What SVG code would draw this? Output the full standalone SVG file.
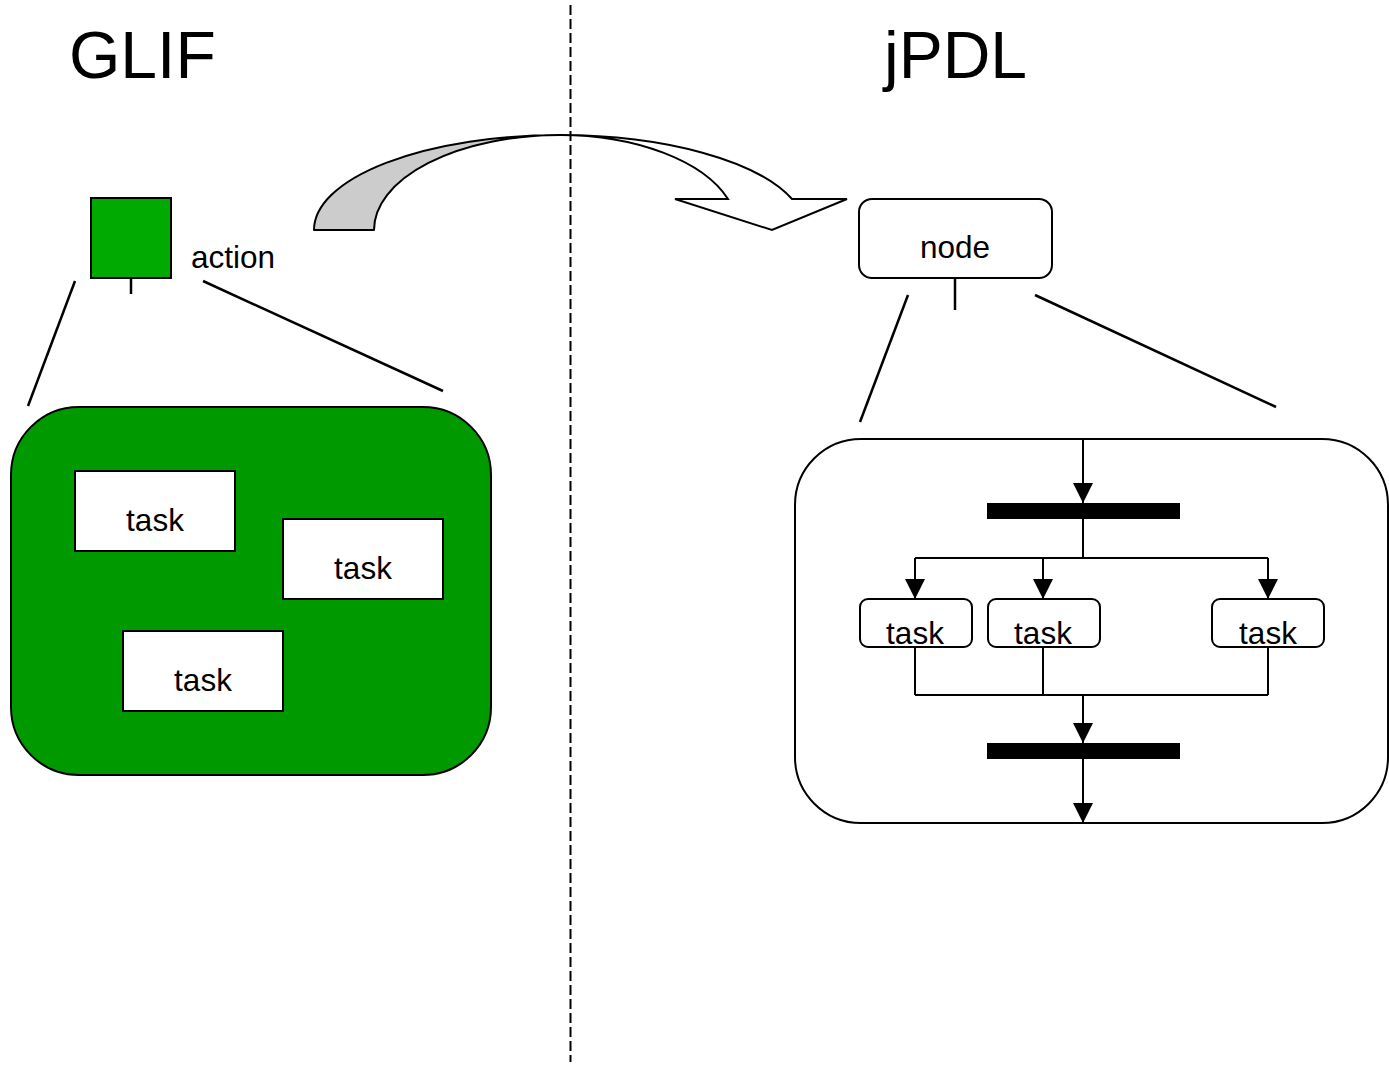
<svg xmlns="http://www.w3.org/2000/svg" width="1389" height="1065" viewBox="0 0 1389 1065">
  <defs>
    <style>
      text { font-family: "Liberation Sans", Arial, sans-serif; fill: #000; }
      .title { font-size: 66px; }
      .lbl { font-size: 31.5px; }
      .mid { text-anchor: middle; }
      .ln { stroke: #000; stroke-width: 2.5; fill: none; }
      .thin { stroke: #000; stroke-width: 2; fill: none; }
      .box { fill: #fff; stroke: #000; stroke-width: 2; }
      .bar { fill: #000; }
    </style>
    <marker id="headL" viewBox="0 0 10 10" refX="10" refY="5" markerWidth="20" markerHeight="20" markerUnits="userSpaceOnUse" orient="auto">
      <path d="M0,0 L10,5 L0,10 Z" fill="#000"/>
    </marker>
  </defs>
  <rect width="1389" height="1065" fill="#fff"/>

  <!-- divider -->
  <line x1="570.5" y1="5" x2="570.5" y2="1062" stroke="#000" stroke-width="2" stroke-dasharray="10 4"/>

  <!-- titles -->
  <text class="title" x="69" y="78">GLIF</text>
  <text class="title" x="884" y="78">jPDL</text>

  <!-- curved transformation arrow -->
  <g id="curved-arrow">
    <path d="M314,230 A246,95 0 0 1 560,135 A186,95 0 0 0 374,230 Z" fill="#cccccc" stroke="#000" stroke-width="2" stroke-linejoin="round"/>
    <path d="M560,135 A246,95 0 0 1 792,199 L847,199 L772,230 L675,199 L728,199 A178,95 0 0 0 560,135 Z" fill="#fff" stroke="#000" stroke-width="2" stroke-linejoin="miter"/>
  </g>

  <!-- GLIF side -->
  <g id="action">
    <rect x="91" y="198" width="80" height="80" fill="#00aa00" stroke="#000" stroke-width="2"/>
    <text class="lbl" x="191" y="268">action</text>
  </g>
  <g id="action-detail">
    <rect x="11" y="407" width="480" height="368" rx="68" ry="68" fill="#009900" stroke="#000" stroke-width="2"/>
  </g>
  <g id="task-g1">
    <rect class="box" x="75" y="471" width="160" height="80"/>
    <text class="lbl mid" x="155" y="531">task</text>
  </g>
  <g id="task-g2">
    <rect class="box" x="283" y="519" width="160" height="80"/>
    <text class="lbl mid" x="363" y="579">task</text>
  </g>
  <g id="task-g3">
    <rect class="box" x="123" y="631" width="160" height="80"/>
    <text class="lbl mid" x="203" y="691">task</text>
  </g>

  <!-- jPDL side -->
  <g id="node">
    <rect class="box" x="859" y="199" width="193" height="79" rx="13" ry="13"/>
    <text class="lbl mid" x="955" y="258">node</text>
  </g>
  <g id="node-detail">
    <rect x="795" y="439" width="593" height="384" rx="66" ry="66" fill="#fff" stroke="#000" stroke-width="2"/>
  </g>
  <g id="fork"><rect class="bar" x="987" y="503" width="193" height="16"/></g>
  <g id="join"><rect class="bar" x="987" y="743" width="193" height="16"/></g>
  <g id="task-j1">
    <rect class="box" x="860" y="599" width="112" height="48" rx="8" ry="8"/>
    <text class="lbl mid" x="915" y="644">task</text>
  </g>
  <g id="task-j2">
    <rect class="box" x="988" y="599" width="112" height="48" rx="8" ry="8"/>
    <text class="lbl mid" x="1043" y="644">task</text>
  </g>
  <g id="task-j3">
    <rect class="box" x="1212" y="599" width="112" height="48" rx="8" ry="8"/>
    <text class="lbl mid" x="1268" y="644">task</text>
  </g>

  <!-- connectors -->
  <g id="connectors">
    <!-- zoom-out guides -->
    <line class="ln" x1="131" y1="278" x2="131" y2="294"/>
    <line class="ln" x1="75" y1="281" x2="28" y2="406"/>
    <line class="ln" x1="203" y1="281" x2="443" y2="391"/>
    <line class="ln" x1="955" y1="278" x2="955" y2="310"/>
    <line class="ln" x1="908" y1="295" x2="860" y2="422"/>
    <line class="ln" x1="1035" y1="295" x2="1276" y2="407"/>
    <!-- flow -->
    <line class="thin" x1="1083" y1="439" x2="1083" y2="503" marker-end="url(#headL)"/>
    <line class="thin" x1="1083" y1="519" x2="1083" y2="558"/>
    <line class="thin" x1="915" y1="558" x2="1268" y2="558"/>
    <line class="thin" x1="915" y1="558" x2="915" y2="599" marker-end="url(#headL)"/>
    <line class="thin" x1="1043" y1="558" x2="1043" y2="599" marker-end="url(#headL)"/>
    <line class="thin" x1="1268" y1="558" x2="1268" y2="599" marker-end="url(#headL)"/>
    <line class="thin" x1="915" y1="647" x2="915" y2="695"/>
    <line class="thin" x1="1043" y1="647" x2="1043" y2="695"/>
    <line class="thin" x1="1268" y1="647" x2="1268" y2="695"/>
    <line class="thin" x1="915" y1="695" x2="1268" y2="695"/>
    <line class="thin" x1="1083" y1="695" x2="1083" y2="743" marker-end="url(#headL)"/>
    <line class="thin" x1="1083" y1="759" x2="1083" y2="823" marker-end="url(#headL)"/>
  </g>
</svg>
